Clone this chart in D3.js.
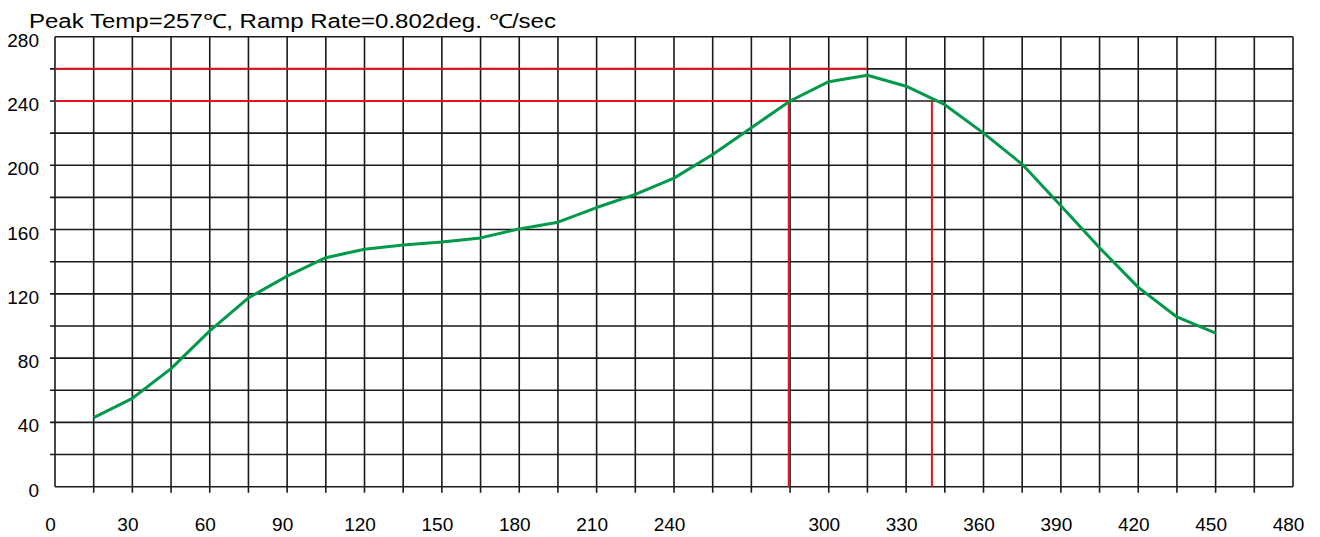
<!DOCTYPE html>
<html>
<head>
<meta charset="utf-8">
<script src="https://cdn.jsdelivr.net/npm/d3@7"></script>
<style>
  html, body { margin: 0; padding: 0; background: #fff; }
  text { font-family: "Liberation Sans", Arial, sans-serif; fill: #000; }
</style>
</head>
<body>
<svg id="profile-chart"></svg>
<script>
// time (sec) and temperature (℃) of the reflow profile
const times = [15, 30, 45, 60, 75, 90, 105, 120, 135, 150, 165, 180, 195, 210, 225,
               240, 255, 270, 285, 300, 315, 330, 345, 360, 375, 390, 405, 420, 435, 450];
const temps = [43, 55, 73.5, 97, 117.5, 131, 142.5, 147.7, 150.4, 152.3, 154.8, 160.4, 164.6, 173.7, 181.9,
               192, 206.7, 223.4, 240, 252, 256, 249.2, 237.7, 220, 200.6, 174.8, 148.7, 124, 105.6, 95.6];

const xTickLabels = [0, 30, 60, 90, 120, 150, 180, 210, 240, 300, 330, 360, 390, 420, 450, 480];
const yTickLabels = [0, 40, 80, 120, 160, 200, 240, 280];

// red marker lines
const liquidusTemp = 240;
const peakLineTemp = 260;
const peakTime = 315;
const aboveStart = 284.5;
const aboveEnd = 340;

const titleText = "Peak Temp=257℃, Ramp Rate=0.802deg. ℃/sec";

document.addEventListener("DOMContentLoaded", function() {
    const width = 1320;
    const height = 537;

    const svg = d3.select("#profile-chart")
        .attr("width", width)
        .attr("height", height);

    const x = d3.scaleLinear().domain([0, 480]).range([55, 1293]);
    const y = d3.scaleLinear().domain([0, 280]).range([486.7, 36.7]);

    const gridColor = "#1a1a1a";

    // vertical grid (interior lines poke out below as ticks)
    svg.append("g").selectAll("line")
        .data(d3.range(0, 481, 15))
        .enter().append("line")
        .attr("x1", d => x(d)).attr("x2", d => x(d))
        .attr("y1", y(280))
        .attr("y2", d => (d === 0 || d === 480) ? y(0) : y(0) + 6)
        .attr("stroke", gridColor)
        .attr("stroke-width", 1.6);

    // horizontal grid (interior lines poke out on the left)
    svg.append("g").selectAll("line")
        .data(d3.range(0, 281, 20))
        .enter().append("line")
        .attr("y1", d => y(d)).attr("y2", d => y(d))
        .attr("x1", d => (d === 0 || d === 280) ? x(0) : x(0) - 5)
        .attr("x2", x(480))
        .attr("stroke", gridColor)
        .attr("stroke-width", 1.6);

    // red marker lines
    const red = "#e8101e";
    const markers = svg.append("g")
        .attr("stroke", red)
        .attr("stroke-width", 2);
    markers.append("line")
        .attr("x1", x(0)).attr("x2", x(peakTime))
        .attr("y1", y(peakLineTemp)).attr("y2", y(peakLineTemp));
    markers.append("line")
        .attr("x1", x(0)).attr("x2", x(aboveStart))
        .attr("y1", y(liquidusTemp)).attr("y2", y(liquidusTemp));
    markers.append("line")
        .attr("x1", x(aboveStart)).attr("x2", x(aboveStart))
        .attr("y1", y(liquidusTemp)).attr("y2", y(0));
    markers.append("line")
        .attr("x1", x(aboveEnd)).attr("x2", x(aboveEnd))
        .attr("y1", y(liquidusTemp)).attr("y2", y(0));

    // temperature curve
    const line = d3.line()
        .x((d, i) => x(times[i]))
        .y(d => y(d));

    svg.append("path")
        .datum(temps)
        .attr("d", line)
        .attr("fill", "none")
        .attr("stroke", "#00994a")
        .attr("stroke-width", 3)
        .attr("stroke-linejoin", "round");

    // axis labels
    const xAxis = d3.axisBottom(x)
        .tickValues(xTickLabels)
        .tickSize(0)
        .tickPadding(31);
    const gx = svg.append("g")
        .attr("transform", `translate(0, ${y(0)})`)
        .call(xAxis);
    gx.select(".domain").remove();
    gx.selectAll("text")
        .attr("dx", -5)
        .style("font-size", "19px")
        .style("font-family", "'Liberation Sans', Arial, sans-serif")
        .attr("fill", "#000");

    const yAxis = d3.axisLeft(y)
        .tickValues(yTickLabels)
        .tickSize(0)
        .tickPadding(16);
    const gy = svg.append("g")
        .attr("transform", `translate(${x(0)}, 0)`)
        .call(yAxis);
    gy.select(".domain").remove();
    gy.selectAll("text")
        .attr("dy", "0.5em")
        .style("font-size", "19px")
        .style("font-family", "'Liberation Sans', Arial, sans-serif")
        .attr("fill", "#000");

    // title (stretched to the reference width)
    svg.append("text")
        .attr("x", 29)
        .attr("y", 28.3)
        .attr("textLength", 527)
        .attr("lengthAdjust", "spacingAndGlyphs")
        .text(titleText)
        .style("font-size", "19.5px");
});
</script>
</body>
</html>
